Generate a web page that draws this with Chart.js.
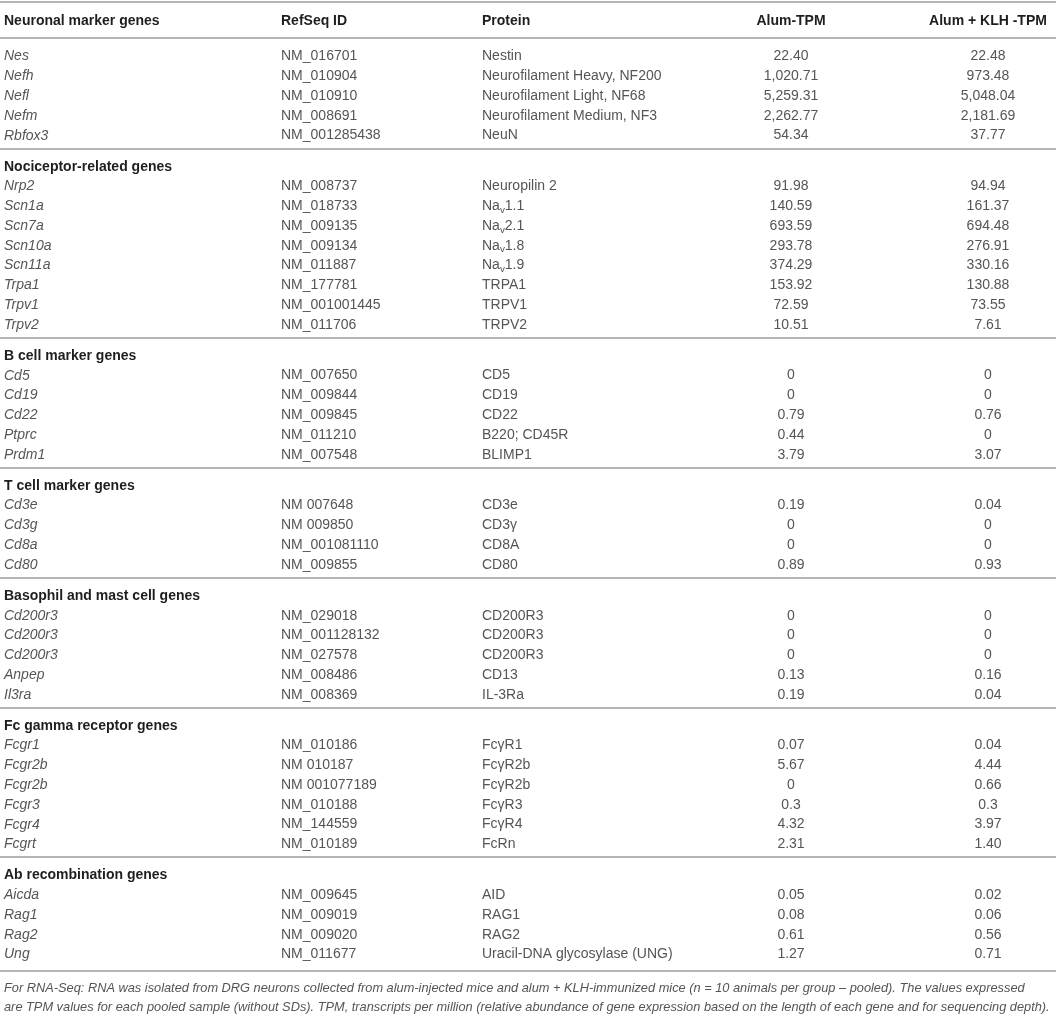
<!DOCTYPE html>
<html lang="en">
  <head>
    <meta charset="utf-8" />
    <title>DRG marker gene TPM table</title>
    <style>
      * {
        margin: 0;
        padding: 0;
      }
      body {
        background: white;
      }
      .tableBox {
        width: 1056px;
        height: 1016px;
      }
    </style>
  </head>
  <body>
    <div class="tableBox">
      <canvas id="myChart" width="1056" height="1016"></canvas>
    </div>
    <script src="https://cdn.jsdelivr.net/npm/chart.js/dist/chart.umd.min.js"></script>
    <script>
      // column headers (first one is also the first section title)
      const headers = ["Neuronal marker genes", "RefSeq ID", "Protein", "Alum-TPM", "Alum + KLH -TPM"];

      const sections = [
        "Neuronal marker genes",
        "Nociceptor-related genes",
        "B cell marker genes",
        "T cell marker genes",
        "Basophil and mast cell genes",
        "Fc gamma receptor genes",
        "Ab recombination genes",
      ];

      // section index of each row
      const rowSection = [
        0, 0, 0, 0, 0,
        1, 1, 1, 1, 1, 1, 1, 1,
        2, 2, 2, 2, 2,
        3, 3, 3, 3,
        4, 4, 4, 4, 4,
        5, 5, 5, 5, 5, 5,
        6, 6, 6, 6,
      ];

      const genes = [
        "Nes", "Nefh", "Nefl", "Nefm", "Rbfox3",
        "Nrp2", "Scn1a", "Scn7a", "Scn10a", "Scn11a", "Trpa1", "Trpv1", "Trpv2",
        "Cd5", "Cd19", "Cd22", "Ptprc", "Prdm1",
        "Cd3e", "Cd3g", "Cd8a", "Cd80",
        "Cd200r3", "Cd200r3", "Cd200r3", "Anpep", "Il3ra",
        "Fcgr1", "Fcgr2b", "Fcgr2b", "Fcgr3", "Fcgr4", "Fcgrt",
        "Aicda", "Rag1", "Rag2", "Ung",
      ];

      const refseq = [
        "NM_016701", "NM_010904", "NM_010910", "NM_008691", "NM_001285438",
        "NM_008737", "NM_018733", "NM_009135", "NM_009134", "NM_011887", "NM_177781", "NM_001001445", "NM_011706",
        "NM_007650", "NM_009844", "NM_009845", "NM_011210", "NM_007548",
        "NM 007648", "NM 009850", "NM_001081110", "NM_009855",
        "NM_029018", "NM_001128132", "NM_027578", "NM_008486", "NM_008369",
        "NM_010186", "NM 010187", "NM 001077189", "NM_010188", "NM_144559", "NM_010189",
        "NM_009645", "NM_009019", "NM_009020", "NM_011677",
      ];

      // {v} marks a subscript
      const proteins = [
        "Nestin", "Neurofilament Heavy, NF200", "Neurofilament Light, NF68", "Neurofilament Medium, NF3", "NeuN",
        "Neuropilin 2", "Na{v}1.1", "Na{v}2.1", "Na{v}1.8", "Na{v}1.9", "TRPA1", "TRPV1", "TRPV2",
        "CD5", "CD19", "CD22", "B220; CD45R", "BLIMP1",
        "CD3e", "CD3γ", "CD8A", "CD80",
        "CD200R3", "CD200R3", "CD200R3", "CD13", "IL-3Ra",
        "FcγR1", "FcγR2b", "FcγR2b", "FcγR3", "FcγR4", "FcRn",
        "AID", "RAG1", "RAG2", "Uracil-DNA glycosylase (UNG)",
      ];

      const alumTPM = [
        "22.40", "1,020.71", "5,259.31", "2,262.77", "54.34",
        "91.98", "140.59", "693.59", "293.78", "374.29", "153.92", "72.59", "10.51",
        "0", "0", "0.79", "0.44", "3.79",
        "0.19", "0", "0", "0.89",
        "0", "0", "0", "0.13", "0.19",
        "0.07", "5.67", "0", "0.3", "4.32", "2.31",
        "0.05", "0.08", "0.61", "1.27",
      ];

      const klhTPM = [
        "22.48", "973.48", "5,048.04", "2,181.69", "37.77",
        "94.94", "161.37", "694.48", "276.91", "330.16", "130.88", "73.55", "7.61",
        "0", "0", "0.76", "0", "3.07",
        "0.04", "0", "0", "0.93",
        "0", "0", "0", "0.16", "0.04",
        "0.04", "4.44", "0.66", "0.3", "3.97", "1.40",
        "0.02", "0.06", "0.56", "0.71",
      ];

      const footnote = [
        "For RNA-Seq: RNA was isolated from DRG neurons collected from alum-injected mice and alum + KLH-immunized mice (n = 10 animals per group – pooled). The values expressed",
        "are TPM values for each pooled sample (without SDs). TPM, transcripts per million (relative abundance of gene expression based on the length of each gene and for sequencing depth).",
      ];

      // layout, in row units on the y scale
      const FONT = "'Liberation Sans', Arial, sans-serif";
      const colX = [4, 281, 482, 791, 988];
      const colAlign = ["left", "left", "left", "center", "center"];
      const ruleColor = "#b4b4b4";

      // work out where each row / rule sits
      const rows = [];
      const rules = [-0.96, 0.85];
      const titles = [];
      let y = 0.8;
      rowSection.forEach((s, i) => {
        if (i > 0 && s !== rowSection[i - 1]) {
          rules.push(y + 0.66);
          y += 1.57;
          titles.push({ text: sections[s], y });
        }
        y += 1;
        rows.push(y);
      });
      const lastRow = y;
      rules.push(lastRow + 0.81);

      function drawRich(ctx, text, x, yPix, size) {
        // simple subscript support for Na{v}
        const parts = text.split(/(\{[^}]*\})/);
        let cx = x;
        parts.forEach((p) => {
          if (!p) return;
          if (p[0] === "{") {
            const sub = p.slice(1, -1);
            ctx.font = `${size * 0.7}px ${FONT}`;
            ctx.fillText(sub, cx, yPix + 4);
            cx += ctx.measureText(sub).width;
            ctx.font = `${size}px ${FONT}`;
          } else {
            ctx.fillText(p, cx, yPix);
            cx += ctx.measureText(p).width;
          }
        });
      }

      const tablePlugin = {
        id: "tablePlugin",
        afterDraw(chart) {
          const { ctx, scales } = chart;
          const xs = scales.x;
          const ys = scales.y;
          ctx.save();
          ctx.textBaseline = "middle";

          // rules
          ctx.strokeStyle = ruleColor;
          ctx.lineWidth = 2;
          rules.forEach((r) => {
            const py = Math.round(ys.getPixelForValue(r));
            ctx.beginPath();
            ctx.moveTo(xs.left, py);
            ctx.lineTo(xs.right, py);
            ctx.stroke();
          });

          // header row
          ctx.fillStyle = "#1e1e1e";
          ctx.font = `bold 14px ${FONT}`;
          headers.forEach((h, c) => {
            ctx.textAlign = colAlign[c];
            ctx.fillText(h, xs.getPixelForValue(colX[c]), ys.getPixelForValue(0));
          });

          // section titles
          ctx.textAlign = "left";
          titles.forEach((t) => {
            ctx.fillText(t.text, xs.getPixelForValue(colX[0]), ys.getPixelForValue(t.y));
          });

          // body cells
          ctx.fillStyle = "#555555";
          rows.forEach((ry, i) => {
            const py = ys.getPixelForValue(ry);
            ctx.textAlign = "left";
            ctx.font = `italic 14px ${FONT}`;
            ctx.fillText(genes[i], xs.getPixelForValue(colX[0]), py);
            ctx.font = `14px ${FONT}`;
            ctx.fillText(refseq[i], xs.getPixelForValue(colX[1]), py);
            drawRich(ctx, proteins[i], xs.getPixelForValue(colX[2]), py, 14);
            ctx.textAlign = "center";
            ctx.fillText(alumTPM[i], xs.getPixelForValue(colX[3]), py);
            ctx.fillText(klhTPM[i], xs.getPixelForValue(colX[4]), py);
          });

          // footnote
          ctx.textAlign = "left";
          ctx.font = `italic 12.8px ${FONT}`;
          footnote.forEach((line, k) => {
            ctx.fillText(
              line,
              xs.getPixelForValue(colX[0]),
              ys.getPixelForValue(lastRow + 1.72 + k * 0.96),
              xs.right - 8
            );
          });
          ctx.restore();
        },
      };

      const config = {
        type: "scatter",
        data: { datasets: [] },
        options: {
          responsive: false,
          animation: false,
          layout: { padding: 0 },
          plugins: {
            legend: { display: false },
            tooltip: { enabled: false },
          },
          scales: {
            x: { type: "linear", min: 0, max: 1056, display: false },
            y: { type: "linear", min: -1.06, max: 50.33, reverse: true, display: false },
          },
        },
        plugins: [tablePlugin],
      };

      const myChart = new Chart(document.getElementById("myChart"), config);
    </script>
  </body>
</html>
